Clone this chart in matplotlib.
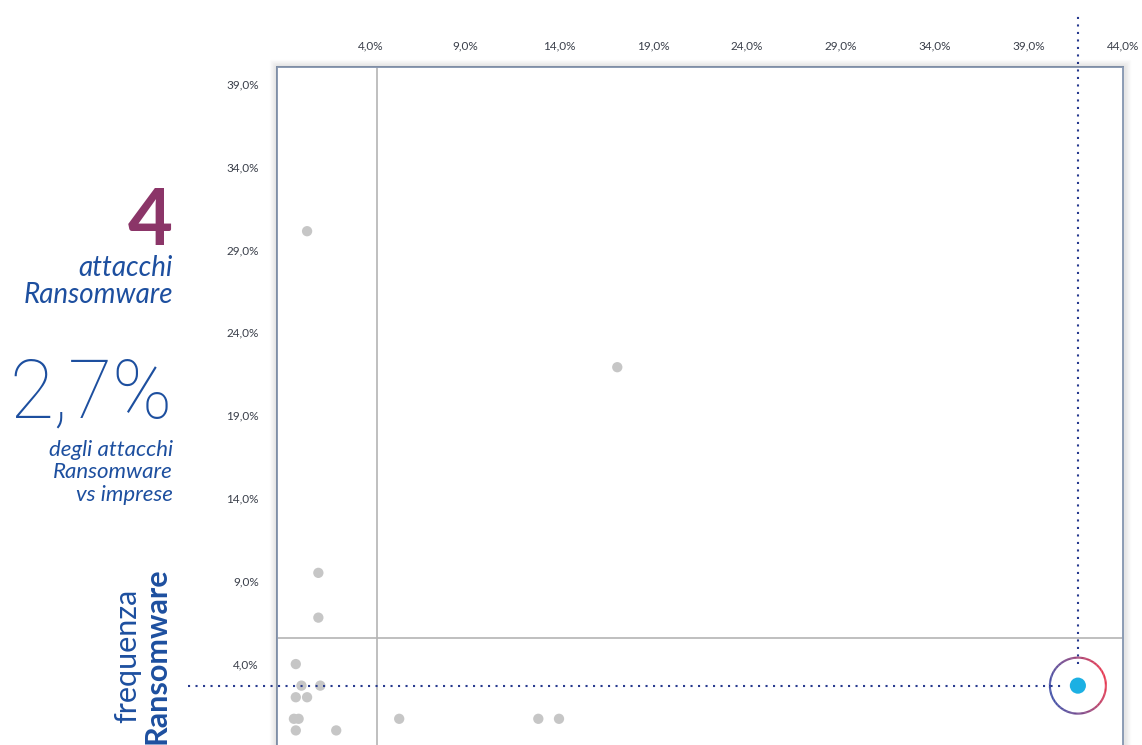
import numpy as np
import matplotlib
matplotlib.use("Agg")
import matplotlib.pyplot as plt
from matplotlib.collections import LineCollection
from matplotlib.colors import LinearSegmentedColormap

plt.rcParams['font.family'] = ['Lato', 'DejaVu Sans']

# scatter data (x: share of attacks, y: ransomware frequency), in %
x_vals = [0.6, 17.1, 1.2, 1.2, 0.0, 0.3, 1.3, 0.0, 0.6, -0.1, 0.15, 0.0, 2.15, 5.5, 12.9, 14.0]
y_vals = [30.1, 21.9, 9.5, 6.8, 4.0, 2.7, 2.7, 2.0, 2.0, 0.7, 0.7, 0.0, 0.0, 0.7, 0.7, 0.7]

# highlighted sector
hl_x = 41.6
hl_y = 2.7

# reference (average) lines
avg_x = 4.3
avg_y = 5.6

x_ticks = [4, 9, 14, 19, 24, 29, 34, 39, 44]
y_ticks = [4, 9, 14, 19, 24, 29, 34, 39]

BLUE = '#1d4f9f'
NAVY = '#273a8f'
GREY_DOT = '#c6c6c6'
FRAME = '#8c9db6'

W, H = 1142, 745
fig = plt.figure(figsize=(W / 100, H / 100), dpi=100)

# axes box in pixels: left 277, right 1123, top 67, bottom 747
left, right, top, bottom = 277, 1123, 67, 747
ax = fig.add_axes([left / W, 1 - bottom / H, (right - left) / W, (bottom - top) / H])

# soft shadow round the frame
for i in range(1, 8):
    fig.patches.append(plt.Rectangle(((left - i) / W, (H - bottom - i) / H),
                                     (right - left + 2 * i) / W, (bottom - top + 2 * i) / H,
                                     transform=fig.transFigure, facecolor='none',
                                     edgecolor='#000000', alpha=0.012 * (8 - i), lw=1, zorder=0))

ax.set_xlim(-1, 44)
ax.set_ylim(-1, 40)

ax.axvline(avg_x, color='#b4b4b4', lw=1.2, zorder=1)
ax.axhline(avg_y, color='#b4b4b4', lw=1.2, zorder=1)

ax.scatter(x_vals, y_vals, s=55, color=GREY_DOT, edgecolors='none', zorder=3)

# guide lines to the highlighted point
px_x = (right - left) / 45.0   # pixels per unit
px_y = (bottom - top) / 41.0
r_px = 28
x_start = -1 - (left - 188) / px_x
y_end = 40 + (top - 14) / px_y
ax.plot([x_start, hl_x - 15 / px_x], [hl_y, hl_y], color=NAVY, lw=1.5,
        linestyle=(0, (1, 2.6)), clip_on=False, zorder=4)
ax.plot([hl_x, hl_x], [hl_y + 22 / px_y, y_end], color=NAVY, lw=1.5,
        linestyle=(0, (1, 2.6)), clip_on=False, zorder=4)

# gradient ring
theta = np.linspace(0, 2 * np.pi, 200)
rx = hl_x + r_px / px_x * np.cos(theta)
ry = hl_y + r_px / px_y * np.sin(theta)
pts = np.column_stack([rx, ry]).reshape(-1, 1, 2)
segs = np.concatenate([pts[:-1], pts[1:]], axis=1)
t = (np.cos(theta[:-1] - np.radians(15)) + 1) / 2
ring_cmap = LinearSegmentedColormap.from_list('ring', ['#2a3a9c', '#7a3276', '#e4213c'])
lc = LineCollection(segs, colors=ring_cmap(t), linewidths=1.5, zorder=5)
ax.add_collection(lc)

ax.scatter([hl_x], [hl_y], s=135, color='#1cb0e3', edgecolors='none', zorder=6)

# ticks
ax.xaxis.tick_top()
ax.set_xticks(x_ticks)
ax.set_xticklabels([f'{v:.1f}%'.replace('.', ',') for v in x_ticks])
ax.set_yticks(y_ticks)
ax.set_yticklabels([f'{v:.1f}%'.replace('.', ',') for v in y_ticks])
ax.tick_params(axis='x', length=0, pad=11, labelsize=8.5, labelcolor='#3a3f4a')
ax.tick_params(axis='y', length=0, pad=13, labelsize=8.5, labelcolor='#3a3f4a')

for s in ['left', 'top', 'right']:
    ax.spines[s].set_color(FRAME)
    ax.spines[s].set_linewidth(1.4)
ax.spines['bottom'].set_visible(False)

# left side texts
tx = 173 / W
fig.text(tx, 1 - 245 / H, '4', ha='right', va='baseline', fontsize=56,
         fontweight='bold', color='#8b3568')
fig.text(tx, 1 - 276 / H, 'attacchi', ha='right', va='baseline', fontsize=20,
         style='italic', color=BLUE)
fig.text(tx, 1 - 303 / H, 'Ransomware', ha='right', va='baseline', fontsize=20,
         style='italic', color=BLUE)
fig.text(tx, 1 - 417 / H, '2,7%', ha='right', va='baseline', fontsize=58,
         fontweight='light', family=['Roboto', 'DejaVu Sans'], color=BLUE)
for i, line in enumerate(['degli attacchi', 'Ransomware', 'vs imprese']):
    fig.text(tx, 1 - (456 + 22.5 * i) / H, line, ha='right', va='baseline',
             fontsize=16, style='italic', color=BLUE)

fig.text(127 / W, 1 - 656 / H, 'frequenza', rotation=90, ha='center', va='center',
         fontsize=22, color=BLUE)
fig.text(157 / W, 1 - 656 / H, 'Ransomware', rotation=90, ha='center', va='center',
         fontsize=22, fontweight='bold', color=BLUE)

fig.savefig('out.png', dpi=100)
